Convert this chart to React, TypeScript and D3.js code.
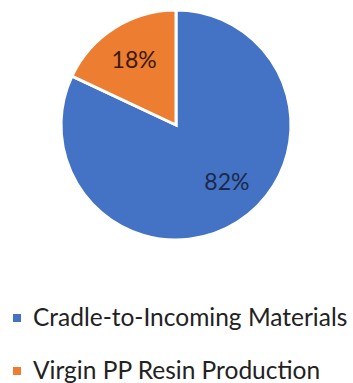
import React from "react";
import * as d3 from "d3";

const categories = ["Cradle-to-Incoming Materials", "Virgin PP Resin Production"];
const values = [82, 18];
const labels = ["82%", "18%"];
const colors = ["#4472C4", "#ED7D31"];

export default function App() {
  const W = 353, H = 383;
  const cx = 176, cy = 125, r = 115;
  const pie = d3.pie<number>().sort(null).startAngle(0).endAngle(2 * Math.PI);
  const arcs = pie(values);
  const arc = d3.arc<d3.PieArcDatum<number>>().innerRadius(0).outerRadius(r);
  const labelArc = d3.arc<d3.PieArcDatum<number>>().innerRadius(r * 0.68).outerRadius(r * 0.68);
  const font = "Lato, 'Open Sans', sans-serif";
  const offsets = [[9, -10], [0, 0]];
  return (
    <svg width={W} height={H} style={{ position: "absolute", left: 0, top: 0, background: "#fff" }}>
      <g transform={`translate(${cx},${cy})`}>
        {arcs.map((a, i) => (
          <path key={i} d={arc(a) || ""} fill={colors[i]} stroke="#fff" strokeWidth={3} strokeLinejoin="miter" />
        ))}
        {arcs.map((a, i) => {
          const [x, y] = labelArc.centroid(a);
          const off = offsets[i];
          return (
            <text key={i} x={x + off[0]} y={y + off[1]} textAnchor="middle" dominantBaseline="central"
              fontFamily={font} fontSize={23} fill={i === 0 ? "#1a2a4a" : "#3a1a08"}>{labels[i]}</text>
          );
        })}
      </g>
      {categories.map((c, i) => (
        <g key={c} transform={`translate(13,${314 + i * 53})`}>
          <rect x={0} y={0} width={8} height={8} fill={colors[i]} />
          <text x={20} y={12} fontFamily={font} fontSize={24.5} fill="#222">{c}</text>
        </g>
      ))}
    </svg>
  );
}
